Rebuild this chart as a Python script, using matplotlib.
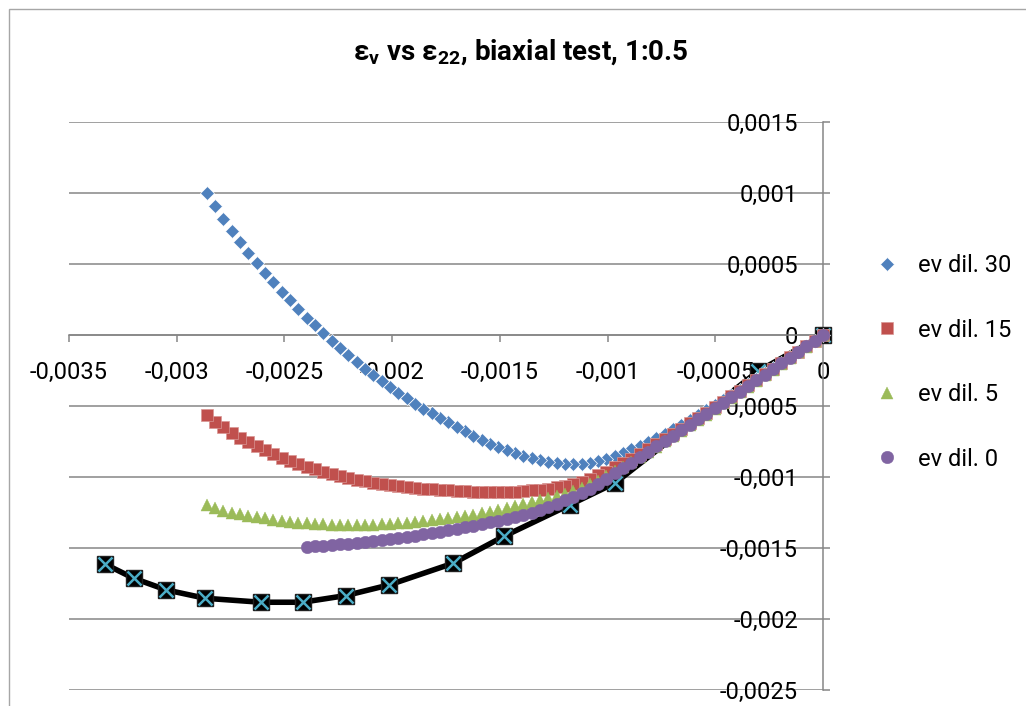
import matplotlib
matplotlib.use("Agg")
import matplotlib.pyplot as plt
from matplotlib.ticker import MultipleLocator, FuncFormatter
from matplotlib.patches import Rectangle

# ---- data (micro-strain) ----
E22 = [0, -39, -77, -116, -155, -193, -232, -271, -309, -348,
       -387, -425, -464, -503, -541, -580, -618, -657, -696, -734,
       -773, -812, -850, -889, -928, -966, -1005, -1044, -1082, -1121,
       -1160, -1198, -1237, -1276, -1314, -1353, -1391, -1430, -1469, -1507,
       -1546, -1585, -1623, -1662, -1701, -1739, -1778, -1817, -1855, -1894,
       -1933, -1971, -2010, -2049, -2087, -2126, -2164, -2203, -2242, -2280,
       -2319, -2358, -2396, -2435, -2474, -2512, -2551, -2590, -2628, -2667,
       -2706, -2744, -2783, -2822, -2860]

ev_dil30 = [0, -39, -78, -117, -156, -195, -233, -271, -309, -347,
            -385, -422, -459, -495, -530, -565, -598, -631, -663, -694,
            -724, -753, -780, -806, -830, -852, -870, -886, -898, -907,
            -911, -909, -902, -892, -880, -866, -850, -832, -813, -792,
            -768, -740, -710, -679, -647, -615, -584, -552, -519, -484,
            -446, -406, -366, -325, -281, -236, -189, -141, -92, -40,
            13, 67, 123, 182, 243, 306, 372, 440, 508, 578,
            652, 730, 815, 905, 1000]

ev_dil15 = [0, -39, -79, -118, -158, -197, -236, -275, -314, -353,
            -392, -431, -470, -509, -547, -585, -623, -660, -697, -733,
            -769, -804, -838, -871, -903, -933, -962, -989, -1013, -1033,
            -1049, -1062, -1073, -1082, -1089, -1095, -1100, -1104, -1106, -1107,
            -1107, -1106, -1104, -1102, -1099, -1095, -1091, -1087, -1082, -1076,
            -1070, -1063, -1056, -1048, -1039, -1030, -1019, -1007, -994, -980,
            -964, -947, -929, -909, -888, -865, -840, -813, -785, -754,
            -722, -690, -650, -610, -565]

ev_dil5 = [0, -41, -81, -122, -162, -203, -243, -284, -324, -364,
           -404, -443, -482, -521, -560, -598, -636, -674, -712, -749,
           -786, -822, -858, -893, -927, -960, -995, -1025, -1052, -1077,
           -1099, -1117, -1133, -1148, -1162, -1175, -1189, -1203, -1217, -1231,
           -1244, -1256, -1266, -1275, -1283, -1291, -1298, -1305, -1311, -1317,
           -1322, -1327, -1331, -1334, -1337, -1339, -1340, -1340, -1339, -1337,
           -1334, -1330, -1326, -1321, -1315, -1308, -1300, -1292, -1283, -1273,
           -1262, -1250, -1236, -1218, -1195]

ev_dil0 = [0, -40, -80, -120, -160, -200, -240, -280, -320, -360,
           -399, -438, -477, -516, -555, -594, -632, -670, -708, -746,
           -784, -822, -860, -898, -936, -975, -1012, -1048, -1082, -1113,
           -1140, -1165, -1190, -1212, -1232, -1250, -1267, -1282, -1296, -1308,
           -1320, -1332, -1344, -1355, -1366, -1376, -1386, -1395, -1404, -1412,
           -1420, -1428, -1436, -1443, -1450, -1457, -1463, -1469, -1475, -1480,
           -1485, -1489, -1492]

ref_x = [-3332, -3200, -3049, -2868, -2608, -2416, -2215, -2014, -1716, -1483, -1174, -965, -300, 0]
ref_y = [-1614, -1713, -1795, -1854, -1882, -1882, -1835, -1760, -1607, -1419, -1195, -1042, -254, 0]

labels = ["ev dil. 30", "ev dil. 15", "ev dil. 5", "ev dil. 0"]
colors = ["#4F81BD", "#C0504D", "#9BBB59", "#8064A2"]
SCALE = 1e-6

plt.rcParams['font.family'] = ['Roboto', 'DejaVu Sans']

W, H = 1026, 706
fig = plt.figure(figsize=(W / 100, H / 100), dpi=100)
fig.patch.set_facecolor('white')

# chart frame (Excel chart area border)
fig.add_artist(Rectangle((9 / W, -0.05), 1.2, 1.05 - 9 / H, transform=fig.transFigure,
                         fill=False, edgecolor='#A6A6A6', linewidth=1.0))

L, R, T, B = 69, 823, 122, 690
ax = fig.add_axes([L / W, 1 - B / H, (R - L) / W, (B - T) / H])
ax.set_xlim(-0.0035, 0)
ax.set_ylim(-0.0025, 0.0015)
ax.set_axisbelow(True)

gray = '#868686'
ax.spines['top'].set_visible(False)
ax.spines['right'].set_visible(False)
ax.spines['bottom'].set_position(('data', 0))
ax.spines['left'].set_position(('data', 0))
for s in ('bottom', 'left'):
    ax.spines[s].set_color(gray)
    ax.spines[s].set_linewidth(1.1)

ax.xaxis.set_major_locator(MultipleLocator(0.0005))
ax.yaxis.set_major_locator(MultipleLocator(0.0005))

def fmt(v, pos):
    if abs(v) < 1e-12:
        return '0'
    s = f'{v:.4f}'.rstrip('0').rstrip('.')
    return s.replace('.', ',')

ax.xaxis.set_major_formatter(FuncFormatter(fmt))
ax.yaxis.set_major_formatter(FuncFormatter(fmt))
ax.tick_params(axis='x', direction='out', length=5, width=1.1, color=gray,
               labelsize=17, pad=13.5, labelcolor='black')
ax.tick_params(axis='y', direction='in', length=5, width=1.1, color=gray,
               labelsize=17, pad=18, labelcolor='black')
ax.yaxis.grid(True, color=gray, linewidth=1.1)
ax.xaxis.grid(False)

# reference curve (black line with X markers)
ax.plot([v * SCALE for v in ref_x], [v * SCALE for v in ref_y], color='black', lw=4,
        marker='s', ms=11, mfc='black', mec='#202020', zorder=3, clip_on=False)
ax.plot([v * SCALE for v in ref_x], [v * SCALE for v in ref_y], ls='none',
        marker='x', ms=10, mec='#4BACC6', mew=1.8, zorder=3.1, clip_on=False)

n0 = len(ev_dil0)
h1, = ax.plot([v * SCALE for v in E22], [v * SCALE for v in ev_dil30], ls='none', marker='D',
              ms=7.2, mfc=colors[0], mec='white', mew=0.5, zorder=4, clip_on=False)
h2, = ax.plot([v * SCALE for v in E22], [v * SCALE for v in ev_dil15], ls='none', marker='s',
              ms=8, mfc=colors[1], mec='#D99694', mew=0.5, zorder=5, clip_on=False)
h3, = ax.plot([v * SCALE for v in E22], [v * SCALE for v in ev_dil5], ls='none', marker='^',
              ms=8.5, mfc=colors[2], mec=colors[2], mew=0.3, zorder=6, clip_on=False)
h4, = ax.plot([v * SCALE for v in E22[:n0]], [v * SCALE for v in ev_dil0], ls='none', marker='o',
              ms=9, mfc=colors[3], mec=colors[3], mew=0.3, zorder=7, clip_on=False)

fig.legend([h1, h2, h3, h4], labels, loc='upper left',
           bbox_to_anchor=(875 / W, 1 - 254 / H), bbox_transform=fig.transFigure,
           frameon=False, fontsize=17, handlelength=1.0, handletextpad=0.8,
           labelspacing=1.76, borderpad=0, borderaxespad=0)

fig.text(521 / W, 1 - 52 / H,
         'ε$_\\mathregular{v}$ vs ε$_\\mathregular{22}$, biaxial test, 1:0.5',
         ha='center', va='center', fontsize=20, fontweight='bold')

fig.savefig('out.png', dpi=100)
